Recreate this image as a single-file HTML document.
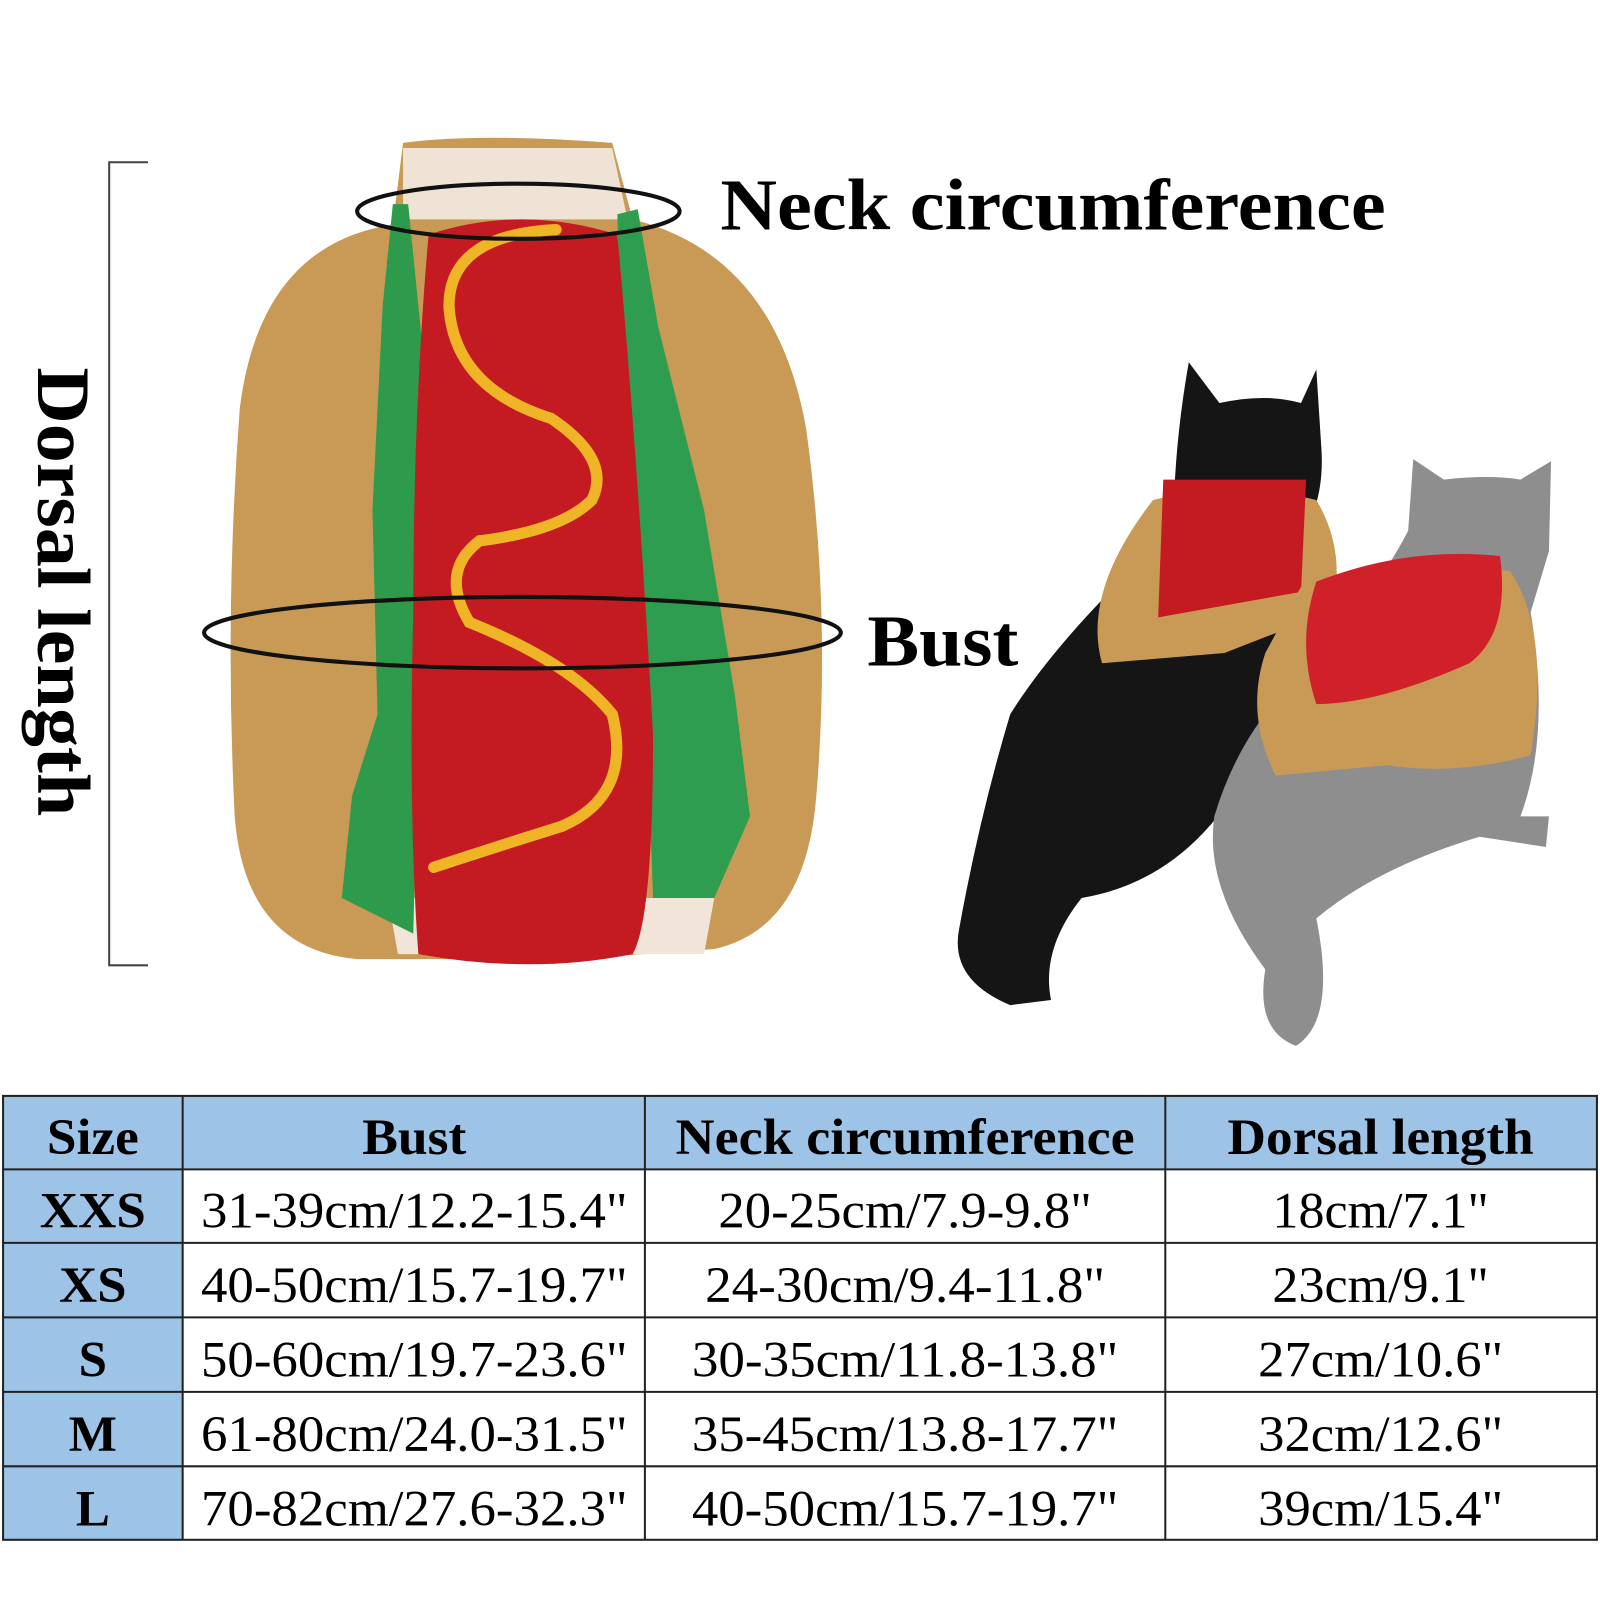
<!DOCTYPE html>
<html><head><meta charset="utf-8"><style>
html,body{margin:0;padding:0;background:#fff;width:1600px;height:1600px;overflow:hidden}
svg{display:block}
text{font-family:"Liberation Serif",serif;fill:#000}
</style></head><body>
<svg width="1600" height="1600" viewBox="0 0 1568 1568" xmlns="http://www.w3.org/2000/svg">
<rect width="1568" height="1568" fill="#fff"/>
<path d="M145 159 H107 V946 H145" fill="none" stroke="#444" stroke-width="2"/>
<text transform="translate(37,360) rotate(90)" font-size="74" font-weight="bold" textLength="440" lengthAdjust="spacingAndGlyphs">Dorsal length</text>
<path d="M395 140 Q470 130 600 140 L620 215 Q760 250 790 420 Q815 600 800 780 Q790 910 700 930 L560 940 L350 940 Q240 930 230 800 Q220 600 235 400 Q255 240 385 220 Z" fill="#c99a55"/>
<path d="M395 145 L600 145 L615 215 L395 215 Z" fill="#efe3d6"/>
<path d="M380 880 L700 880 L690 935 L390 935 Z" fill="#f1e4d8"/>
<path d="M385 200 L400 200 L420 400 L410 700 L405 915 L335 880 L345 780 L370 700 L365 500 L375 300 Z" fill="#2d9a4c"/>
<path d="M605 210 L625 205 L645 320 L690 500 L720 680 L735 800 L700 880 L640 880 L630 600 L610 400 Z" fill="#2f9d50"/>
<path d="M420 230 Q510 200 605 230 Q625 450 640 720 Q640 900 620 935 Q520 955 410 935 Q400 800 405 600 Q405 400 420 230 Z" fill="#c41b22"/>
<path d="M545 225 Q440 230 440 300 Q445 380 540 410 Q600 450 580 490 Q550 520 470 530 Q430 560 460 610 Q560 650 600 700 Q620 780 550 810 Q470 835 425 850" fill="none" stroke="#f0b526" stroke-width="11" stroke-linecap="round"/>
<ellipse cx="508" cy="207" rx="158" ry="27" fill="none" stroke="#111" stroke-width="4"/>
<ellipse cx="512" cy="620" rx="312" ry="35" fill="none" stroke="#111" stroke-width="4"/>
<text x="706" y="225" font-size="72" font-weight="bold" textLength="652" lengthAdjust="spacingAndGlyphs">Neck circumference</text>
<text x="850" y="652" font-size="72" font-weight="bold" textLength="148" lengthAdjust="spacingAndGlyphs">Bust</text>
<path d="M1165 355 L1195 395 Q1240 385 1275 395 L1290 362 L1295 440 Q1300 520 1240 560 Q1300 650 1240 720 Q1180 860 1060 880 Q1020 930 1030 980 L990 985 Q930 960 940 910 Q960 800 990 700 Q1040 620 1150 520 Q1150 440 1165 355 Z" fill="#151515"/>
<path d="M1385 450 L1415 470 Q1460 465 1490 470 L1520 452 L1518 540 L1500 600 Q1520 720 1490 800 L1518 800 L1515 830 L1450 820 Q1350 850 1290 900 Q1310 1000 1270 1025 Q1230 1010 1240 950 Q1180 870 1190 800 Q1220 700 1300 640 Q1360 560 1380 520 Z" fill="#8e8e8e"/>
<path d="M1130 490 Q1210 470 1290 490 Q1320 540 1305 600 Q1250 620 1200 640 L1080 650 Q1060 580 1130 490 Z" fill="#c99a55"/>
<path d="M1140 470 L1280 470 L1275 580 L1135 605 Z" fill="#c41b22"/>
<path d="M1275 575 Q1360 540 1480 560 Q1520 620 1500 740 Q1430 760 1360 750 L1250 760 Q1220 700 1240 640 Z" fill="#c99a55"/>
<path d="M1290 570 Q1380 535 1470 545 Q1480 620 1440 650 Q1350 690 1290 690 Q1270 630 1290 570 Z" fill="#d0202a"/>
<rect x="3" y="1074" width="1562" height="72" fill="#9dc3e6"/>
<rect x="3" y="1146" width="176" height="363" fill="#9dc3e6"/>
<g stroke="#222" stroke-width="2" fill="none">
<rect x="3" y="1074" width="1562" height="435"/>
<line x1="179" y1="1074" x2="179" y2="1509"/>
<line x1="632" y1="1074" x2="632" y2="1509"/>
<line x1="1142" y1="1074" x2="1142" y2="1509"/>
<line x1="3" y1="1146" x2="1565" y2="1146"/>
<line x1="3" y1="1218" x2="1565" y2="1218"/>
<line x1="3" y1="1291" x2="1565" y2="1291"/>
<line x1="3" y1="1364" x2="1565" y2="1364"/>
<line x1="3" y1="1437" x2="1565" y2="1437"/>
</g>
<g font-size="50" font-weight="bold" text-anchor="middle">
<text x="91" y="1131" textLength="90" lengthAdjust="spacingAndGlyphs">Size</text>
<text x="406" y="1131" textLength="102" lengthAdjust="spacingAndGlyphs">Bust</text>
<text x="887" y="1131" textLength="450" lengthAdjust="spacingAndGlyphs">Neck circumference</text>
<text x="1353" y="1131" textLength="300" lengthAdjust="spacingAndGlyphs">Dorsal length</text>
<text x="91" y="1203" textLength="104" lengthAdjust="spacingAndGlyphs">XXS</text>
<text x="91" y="1276" textLength="66" lengthAdjust="spacingAndGlyphs">XS</text>
<text x="91" y="1349">S</text>
<text x="91" y="1422">M</text>
<text x="91" y="1495">L</text>
</g>
<g font-size="50" text-anchor="middle">
<text x="406" y="1203" textLength="418" lengthAdjust="spacingAndGlyphs">31-39cm/12.2-15.4"</text>
<text x="406" y="1276" textLength="418" lengthAdjust="spacingAndGlyphs">40-50cm/15.7-19.7"</text>
<text x="406" y="1349" textLength="418" lengthAdjust="spacingAndGlyphs">50-60cm/19.7-23.6"</text>
<text x="406" y="1422" textLength="418" lengthAdjust="spacingAndGlyphs">61-80cm/24.0-31.5"</text>
<text x="406" y="1495" textLength="418" lengthAdjust="spacingAndGlyphs">70-82cm/27.6-32.3"</text>
<text x="887" y="1203" textLength="366" lengthAdjust="spacingAndGlyphs">20-25cm/7.9-9.8"</text>
<text x="887" y="1276" textLength="392" lengthAdjust="spacingAndGlyphs">24-30cm/9.4-11.8"</text>
<text x="887" y="1349" textLength="418" lengthAdjust="spacingAndGlyphs">30-35cm/11.8-13.8"</text>
<text x="887" y="1422" textLength="418" lengthAdjust="spacingAndGlyphs">35-45cm/13.8-17.7"</text>
<text x="887" y="1495" textLength="418" lengthAdjust="spacingAndGlyphs">40-50cm/15.7-19.7"</text>
<text x="1353" y="1203" textLength="212" lengthAdjust="spacingAndGlyphs">18cm/7.1"</text>
<text x="1353" y="1276" textLength="212" lengthAdjust="spacingAndGlyphs">23cm/9.1"</text>
<text x="1353" y="1349" textLength="240" lengthAdjust="spacingAndGlyphs">27cm/10.6"</text>
<text x="1353" y="1422" textLength="240" lengthAdjust="spacingAndGlyphs">32cm/12.6"</text>
<text x="1353" y="1495" textLength="240" lengthAdjust="spacingAndGlyphs">39cm/15.4"</text>
</g>
</svg>
</body></html>
